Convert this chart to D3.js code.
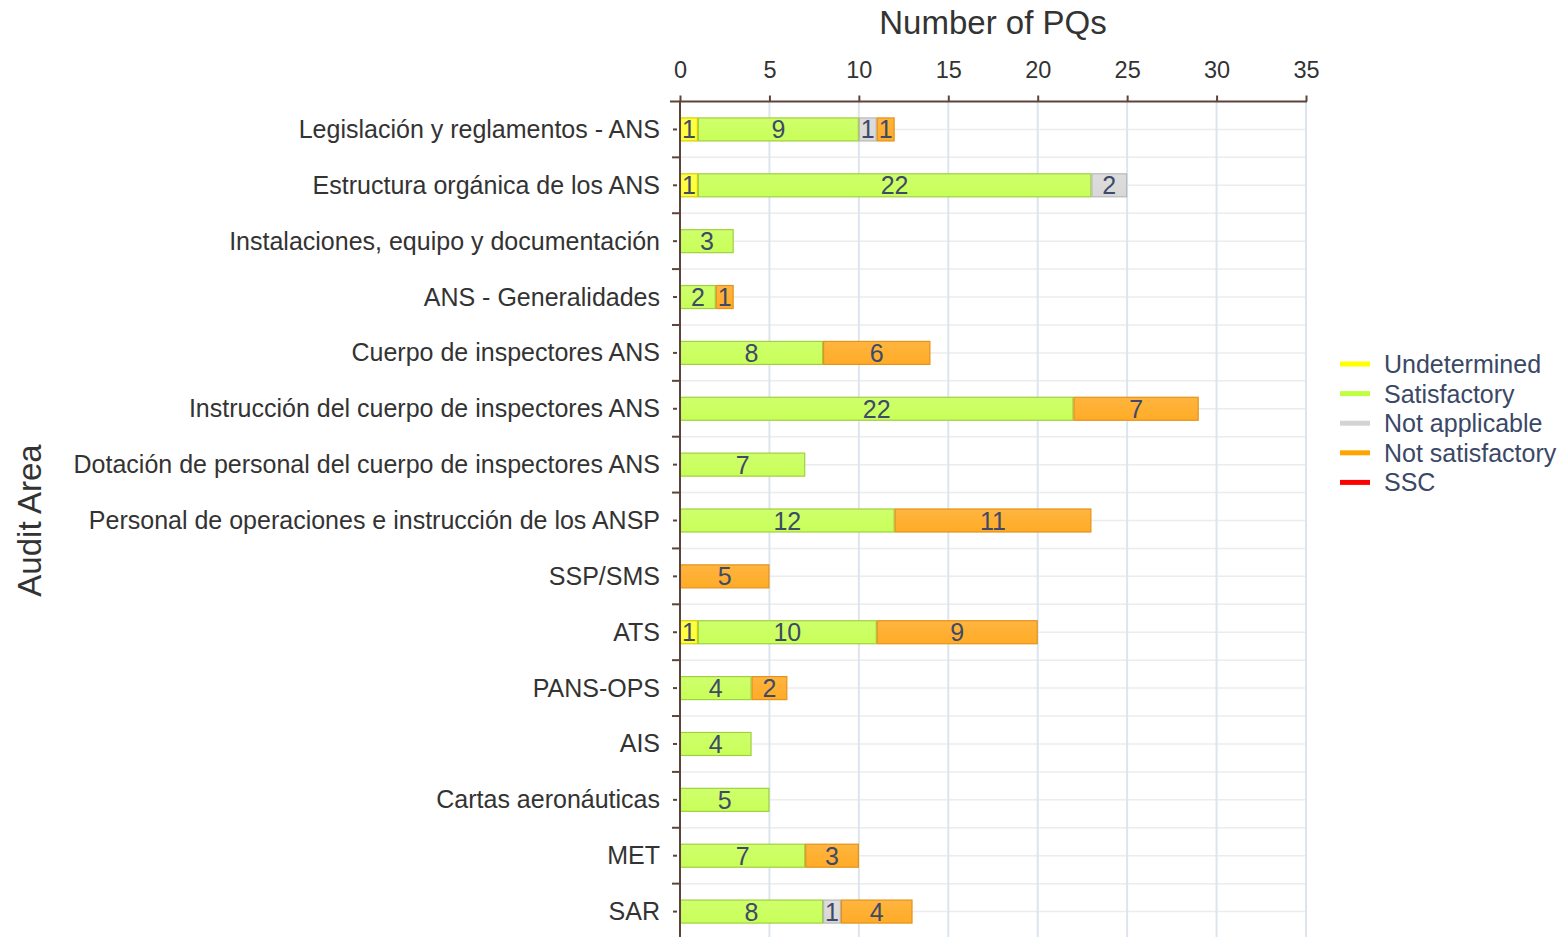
<!DOCTYPE html>
<html>
<head>
<meta charset="utf-8">
<script src="https://cdn.jsdelivr.net/npm/d3@7"></script>
<style>
html,body{margin:0;padding:0;background:#fff;overflow:hidden;}
text{font-family:"Liberation Sans",Arial,sans-serif;}
</style>
</head>
<body>
<svg id="chart" width="1562" height="937"></svg>
<script>
const categories = [
  "Legislación y reglamentos - ANS",
  "Estructura orgánica de los ANS",
  "Instalaciones, equipo y documentación",
  "ANS - Generalidades",
  "Cuerpo de inspectores ANS",
  "Instrucción del cuerpo de inspectores ANS",
  "Dotación de personal del cuerpo de inspectores ANS",
  "Personal de operaciones e instrucción de los ANSP",
  "SSP/SMS",
  "ATS",
  "PANS-OPS",
  "AIS",
  "Cartas aeronáuticas",
  "MET",
  "SAR"
];
const seriesNames = ["Undetermined","Satisfactory","Not applicable","Not satisfactory","SSC"];
const undetermined    = [1,1,0,0,0,0,0,0,0,1,0,0,0,0,0];
const satisfactory    = [9,22,3,2,8,22,7,12,0,10,4,4,5,7,8];
const notApplicable   = [1,2,0,0,0,0,0,0,0,0,0,0,0,0,1];
const notSatisfactory = [1,0,0,1,6,7,0,11,5,9,2,0,0,3,4];
const ssc             = [0,0,0,0,0,0,0,0,0,0,0,0,0,0,0];
const xTicks = [0,5,10,15,20,25,30,35];
const xTitle = "Number of PQs";
const yTitle = "Audit Area";

(function(){
const fills   = ["#ffff33","#c8ff58","#d8d8d8","#ffab26","#ff0000"];
const strokes = ["#d9cf00","#a0d040","#b8b8b8","#e3921a","#cc0000"];
const legendColors = ["#ffff00","#bfff40","#d3d3d3","#ffa500","#ff0000"];

const table = categories.map((c,i)=>({cat:c, vals:[undetermined[i],satisfactory[i],notApplicable[i],notSatisfactory[i],ssc[i]]}));

const svg = d3.select("#chart");
const pLeft = 680, pRight = 1306, pTop = 101.5, pBottom = 939.5;
const x = d3.scaleLinear().domain([0,35]).range([pLeft,pRight]);
const y = d3.scaleBand().domain(categories).range([pTop,pBottom]);
const bw = y.bandwidth();

const defs = svg.append("defs");
fills.forEach((f,i)=>{
  const g = defs.append("linearGradient").attr("id","g"+i).attr("x1",0).attr("x2",0).attr("y1",0).attr("y2",1);
  g.append("stop").attr("offset","0%").attr("stop-color", d3.interpolateRgb(f,"#fff")(0.12));
  g.append("stop").attr("offset","100%").attr("stop-color", f);
});

const hLines = [];
categories.forEach(c=>{ hLines.push(y(c)); hLines.push(y(c)+bw/2); });
hLines.push(pBottom);
svg.append("g").selectAll("line").data(hLines.slice(1)).join("line")
  .attr("x1",pLeft).attr("x2",pRight).attr("y1",d=>d).attr("y2",d=>d)
  .attr("stroke","#ececec").attr("stroke-width",1.5);

svg.append("g").selectAll("line").data(xTicks.slice(1)).join("line")
  .attr("x1",d=>x(d)).attr("x2",d=>x(d)).attr("y1",pTop).attr("y2",pBottom)
  .attr("stroke","#dce5ee").attr("stroke-width",2);

const barH = 23;
const bars = svg.append("g");
table.forEach(row=>{
  let acc = 0;
  row.vals.forEach((v,si)=>{
    if(v>0){
      const x0 = x(acc), x1 = x(acc+v);
      const cy = y(row.cat)+bw/2;
      bars.append("rect").attr("x",x0+0.5).attr("y",cy-barH/2).attr("width",x1-x0-1).attr("height",barH)
        .attr("fill","url(#g"+si+")").attr("stroke",strokes[si]).attr("stroke-width",1.2);
      bars.append("text").attr("x",(x0+x1)/2).attr("y",cy+9).attr("text-anchor","middle")
        .attr("font-size",25).attr("fill","#3e4a68").text(v);
      acc += v;
    }
  });
});

const axisColor = "#5e433d";
const gx = svg.append("g").attr("transform",`translate(0,${pTop})`)
  .call(d3.axisTop(x).tickValues(xTicks).tickSize(6).tickPadding(6));
gx.select(".domain").attr("stroke",axisColor).attr("stroke-width",2).attr("d",`M${pLeft-10},0H${pRight+1}`);
gx.selectAll(".tick line").attr("stroke",axisColor).attr("stroke-width",2);
gx.selectAll(".tick text").attr("font-size",23.5).attr("fill","#333").attr("font-family","Liberation Sans, Arial, sans-serif").attr("dy",0).attr("y",-24);

const ly = svg.append("g");
ly.append("line").attr("x1",pLeft).attr("x2",pLeft).attr("y1",pTop-1).attr("y2",pBottom)
  .attr("stroke",axisColor).attr("stroke-width",2);
ly.selectAll(".maj").data(categories.slice(1).concat(["__end"])).join("line")
  .attr("x1",pLeft-8).attr("x2",pLeft).attr("y1",d=>d==="__end"?pBottom:y(d)).attr("y2",d=>d==="__end"?pBottom:y(d))
  .attr("stroke",axisColor).attr("stroke-width",2);
ly.selectAll(".min").data(categories).join("line")
  .attr("x1",pLeft-7).attr("x2",pLeft-3).attr("y1",d=>y(d)+bw/2).attr("y2",d=>y(d)+bw/2)
  .attr("stroke",axisColor).attr("stroke-width",2);
ly.selectAll("text").data(categories).join("text")
  .attr("x",pLeft-20).attr("y",d=>y(d)+bw/2+8.5).attr("text-anchor","end")
  .attr("font-size",25).attr("fill","#333").text(d=>d);

svg.append("text").attr("x",(pLeft+pRight)/2).attr("y",34).attr("text-anchor","middle")
  .attr("font-size",33).attr("fill","#333").text(xTitle);
svg.append("text").attr("transform",`translate(41,${(pTop+pBottom)/2}) rotate(-90)`).attr("text-anchor","middle")
  .attr("font-size",33).attr("fill","#333").text(yTitle);

const lg = svg.append("g");
seriesNames.forEach((s,i)=>{
  const cy = 364 + i*29.6;
  lg.append("line").attr("x1",1340).attr("x2",1370).attr("y1",cy).attr("y2",cy)
    .attr("stroke",legendColors[i]).attr("stroke-width",5);
  lg.append("text").attr("x",1384).attr("y",cy+9).attr("font-size",25).attr("fill","#3a4866").text(s);
});
})();
</script>
</body>
</html>
